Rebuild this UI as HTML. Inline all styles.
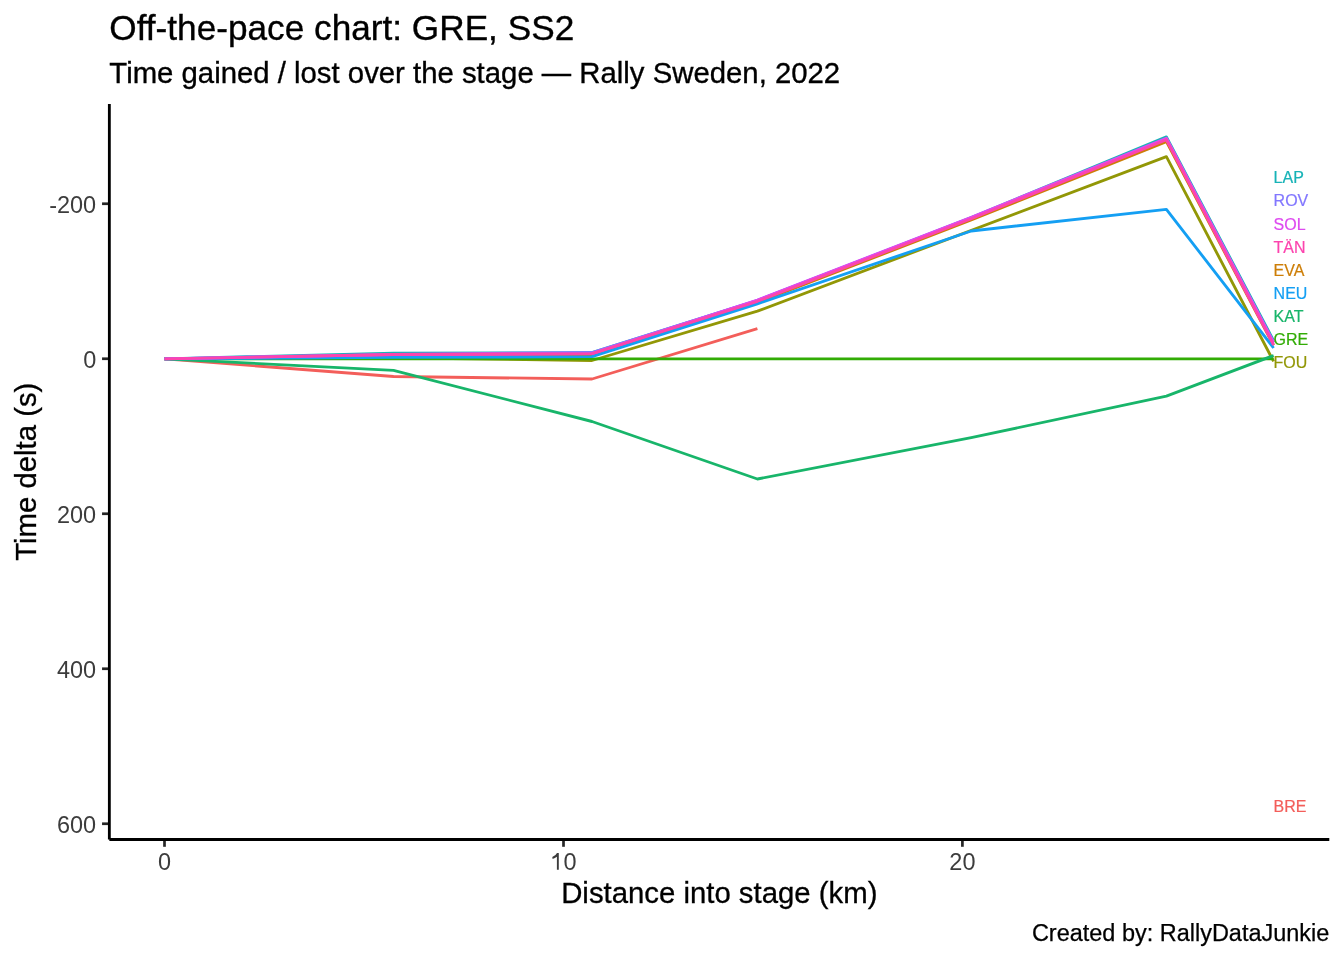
<!DOCTYPE html>
<html><head><meta charset="utf-8"><title>Off-the-pace chart</title>
<style>
html,body{margin:0;padding:0;background:#fff;width:1344px;height:960px;overflow:hidden}
svg{display:block;will-change:transform}
text{font-family:"Liberation Sans",sans-serif}
</style></head><body>
<svg width="1344" height="960" viewBox="0 0 1344 960">
<rect x="0" y="0" width="1344" height="960" fill="#fff"/>
<text transform="translate(109.3 40.0) scale(1 1.012)" font-size="35.2" fill="#000" stroke="#000" stroke-width="0.35">Off-the-pace chart: GRE, SS2</text>
<text transform="translate(109.3 82.7) scale(1 1.000)" font-size="29.33" fill="#000" stroke="#000" stroke-width="0.35">Time gained / lost over the stage — Rally Sweden, 2022</text>
<g fill="none" stroke-width="2.84" stroke-linejoin="round" stroke-linecap="butt">
<path d="M164.50 358.80 L393.50 376.50 L592.00 379.00 L757.40 328.60" stroke="#F35E5A"/>
<path d="M164.50 358.80 L393.50 356.00 L592.00 355.00 L757.40 302.60 L971.25 220.00 L1166.40 141.60 L1273.60 345.40" stroke="#CD7E07"/>
<path d="M164.50 358.80 L393.50 357.90 L592.00 360.50 L757.40 311.20 L1166.40 156.60 L1273.60 361.40" stroke="#929706"/>
<path d="M164.50 358.80 L1273.60 358.80" stroke="#32AC05"/>
<path d="M164.50 358.80 L393.50 370.40 L592.00 421.50 L757.40 479.00 L971.25 437.60 L1166.40 396.20 L1273.60 355.50" stroke="#18B56A"/>
<path d="M164.50 358.80 L393.50 353.10 L592.00 352.60 L757.40 300.60 L971.25 217.60 L1166.40 136.90 L1273.60 340.60" stroke="#17B3B7"/>
<path d="M164.50 358.80 L393.50 357.40 L592.00 356.70 L757.40 303.80 L971.25 231.00 L1166.40 209.30 L1273.60 348.00" stroke="#149FF3"/>
<path d="M164.50 358.80 L393.50 354.30 L592.00 352.50 L757.40 300.40 L971.25 217.90 L1166.40 138.80 L1273.60 342.60" stroke="#8277FF"/>
<path d="M164.50 358.80 L393.50 354.60 L592.00 353.60 L757.40 300.10 L971.25 217.20 L1166.40 138.20 L1273.60 342.50" stroke="#DE4AF0"/>
<path d="M164.50 358.80 L393.50 354.50 L592.00 353.60 L757.40 301.30 L971.25 218.75 L1166.40 139.80 L1273.60 345.00" stroke="#FC44AE"/>
</g>
<g font-size="16.00">
<text transform="translate(1273.60 182.90) scale(1 1.040)" fill="#17B3B7" stroke="#17B3B7" stroke-width="0.21">LAP</text>
<text transform="translate(1273.60 205.80) scale(1 1.040)" fill="#8277FF" stroke="#8277FF" stroke-width="0.21">ROV</text>
<text transform="translate(1273.60 229.80) scale(1 1.040)" fill="#DE4AF0" stroke="#DE4AF0" stroke-width="0.21">SOL</text>
<text transform="translate(1273.60 252.90) scale(1 1.040)" fill="#FC44AE" stroke="#FC44AE" stroke-width="0.21">TÄN</text>
<text transform="translate(1273.60 275.90) scale(1 1.040)" fill="#CD7E07" stroke="#CD7E07" stroke-width="0.21">EVA</text>
<text transform="translate(1273.60 298.90) scale(1 1.040)" fill="#149FF3" stroke="#149FF3" stroke-width="0.21">NEU</text>
<text transform="translate(1273.60 321.80) scale(1 1.040)" fill="#18B56A" stroke="#18B56A" stroke-width="0.21">KAT</text>
<text transform="translate(1273.60 344.70) scale(1 1.040)" fill="#32AC05" stroke="#32AC05" stroke-width="0.21">GRE</text>
<text transform="translate(1273.60 367.60) scale(1 1.040)" fill="#929706" stroke="#929706" stroke-width="0.21">FOU</text>
<text transform="translate(1273.60 811.90) scale(1 1.040)" fill="#F35E5A" stroke="#F35E5A" stroke-width="0.21">BRE</text>
</g>
<g stroke="#262626" stroke-width="2.7" fill="none" stroke-linecap="butt">
<line x1="102.05" y1="203.75" x2="109.35" y2="203.75"/>
<line x1="102.05" y1="358.75" x2="109.35" y2="358.75"/>
<line x1="102.05" y1="513.75" x2="109.35" y2="513.75"/>
<line x1="102.05" y1="668.75" x2="109.35" y2="668.75"/>
<line x1="102.05" y1="823.75" x2="109.35" y2="823.75"/>
<line x1="164.50" y1="839.50" x2="164.50" y2="846.80"/>
<line x1="563.50" y1="839.50" x2="563.50" y2="846.80"/>
<line x1="962.40" y1="839.50" x2="962.40" y2="846.80"/>
</g>
<g stroke="#000" stroke-width="2.84" fill="none" stroke-linecap="butt">
<line x1="109.35" y1="104.00" x2="109.35" y2="839.50"/>
<line x1="109.35" y1="839.50" x2="1329.30" y2="839.50"/>
</g>
<g font-size="23.47" fill="#3C3C3C">
<text x="96.2" y="212.65" text-anchor="end">-200</text>
<text x="96.2" y="367.65" text-anchor="end">0</text>
<text x="96.2" y="522.65" text-anchor="end">200</text>
<text x="96.2" y="677.65" text-anchor="end">400</text>
<text x="96.2" y="832.65" text-anchor="end">600</text>
<text x="164.50" y="869.8" text-anchor="middle">0</text>
<text x="563.50" y="869.8">0</text>
<path d="M557.0 853.1 L558.8 853.1 L558.8 869.7 L556.9 869.7 L556.9 856.7 Q555.0 858.1 552.6 858.9 L552.3 857.1 Q555.7 855.8 557.0 853.1 Z"/>
<text x="962.40" y="869.8" text-anchor="middle">20</text>
</g>
<text x="719.3" y="902.7" font-size="29.33" fill="#000" stroke="#000" stroke-width="0.3" text-anchor="middle">Distance into stage (km)</text>
<text transform="translate(35.5 471.75) rotate(-90)" font-size="29.33" fill="#000" stroke="#000" stroke-width="0.3" text-anchor="middle">Time delta (s)</text>
<text x="1329.3" y="940.7" font-size="23.47" fill="#000" stroke="#000" stroke-width="0.25" text-anchor="end">Created by: RallyDataJunkie</text>
</svg>
</body></html>
